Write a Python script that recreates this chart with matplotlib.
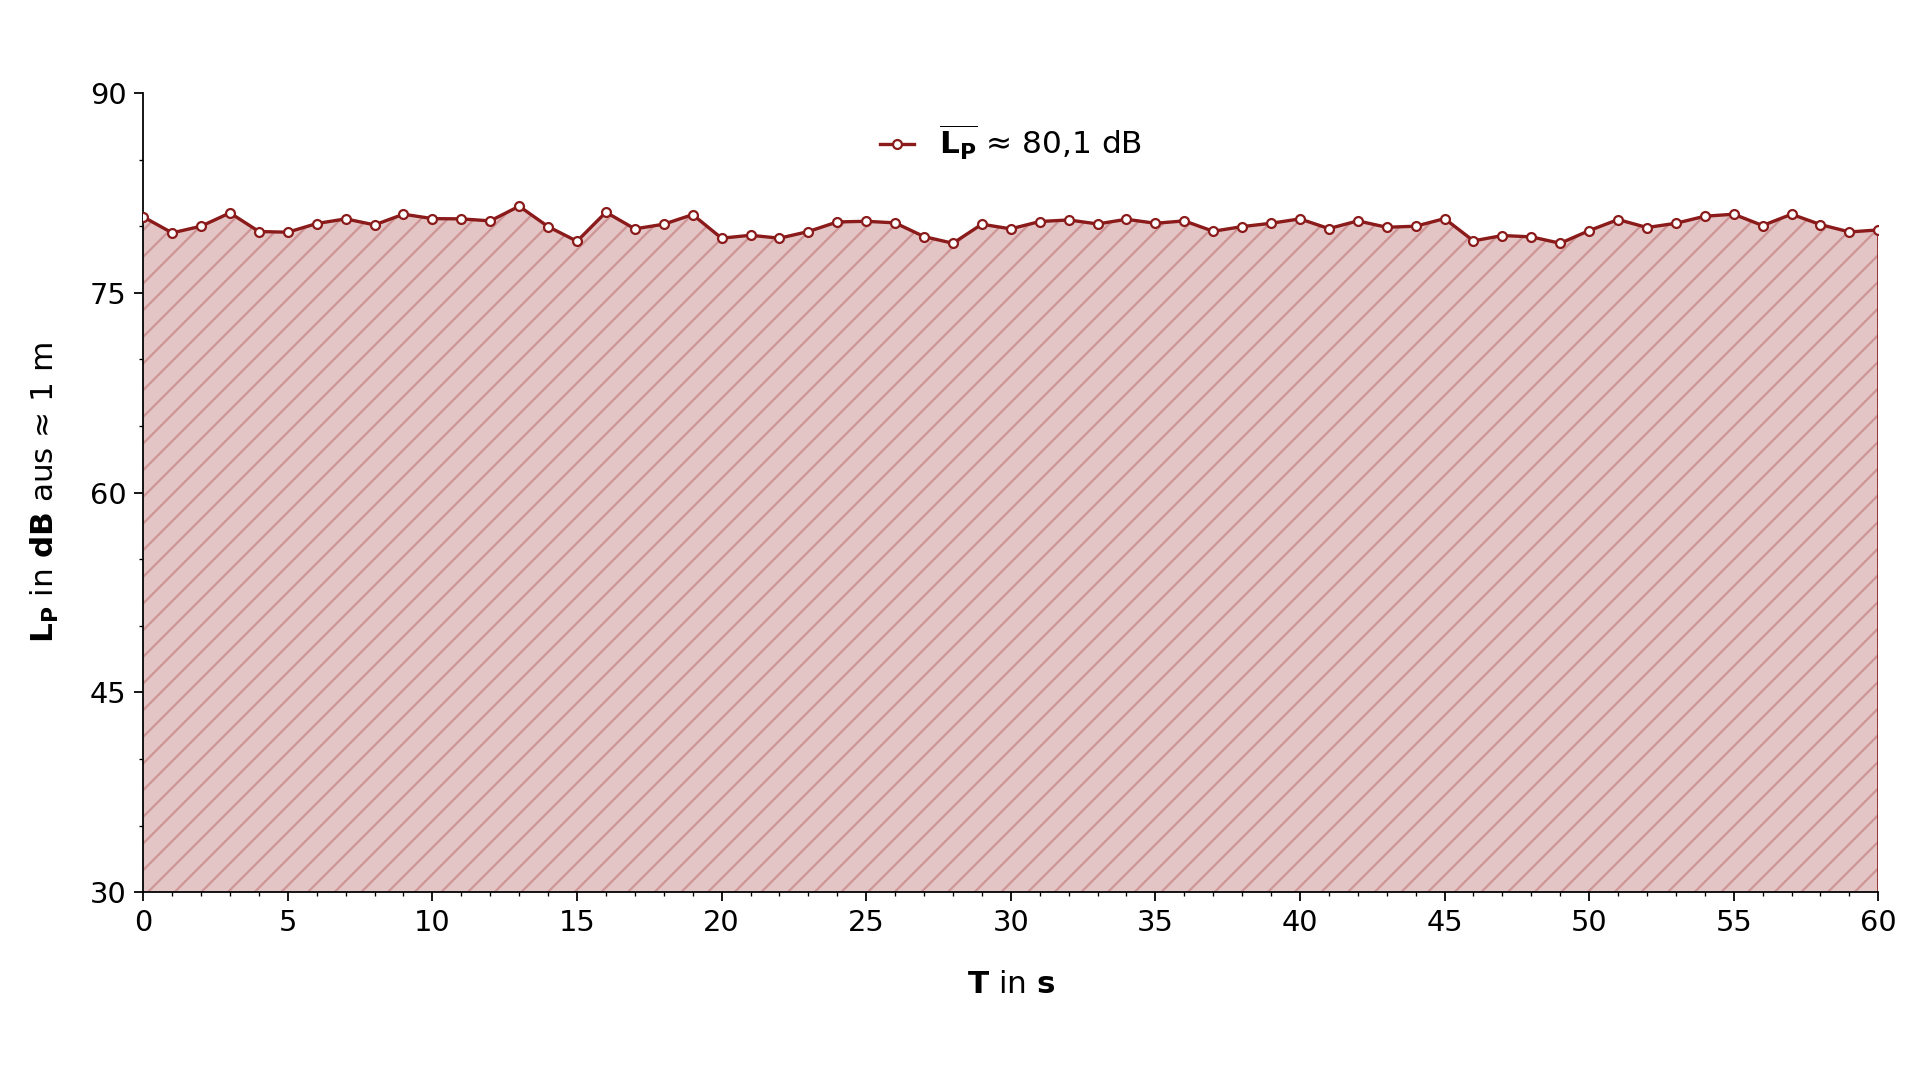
import numpy as np
import matplotlib
matplotlib.use("Agg")
import matplotlib.pyplot as plt

# Zeit in Sekunden und Schalldruckpegel in dB
t = np.arange(0, 61)
lp = [80.7, 79.5, 80.0, 81.0, 79.6, 79.55, 80.2, 80.55, 80.1, 80.9,
      80.57, 80.55, 80.4, 81.5, 79.97, 78.87, 81.05, 79.8, 80.15, 80.87,
      79.1, 79.32, 79.1, 79.6, 80.32, 80.37, 80.25, 79.22, 78.72, 80.15,
      79.8, 80.35, 80.47, 80.17, 80.52, 80.22, 80.4, 79.62, 79.97, 80.22,
      80.55, 79.82, 80.4, 79.92, 80.0, 80.57, 78.9, 79.3, 79.2, 78.72,
      79.67, 80.5, 79.9, 80.22, 80.75, 80.9, 80.05, 80.9, 80.12, 79.57,
      79.72]
legend_label = r"$\overline{\mathbf{L_P}}$ ≈ 80,1 dB"

red = "#8b1a1a"
y_min, y_max = 30, 90

fig = plt.figure(figsize=(12, 6.75), dpi=160)
ax = fig.add_axes([0.0746, 0.1738, 0.9037, 0.7401])

# gefüllte Fläche mit Schraffur
plt.rcParams["hatch.linewidth"] = 1.0
ax.fill_between(t, y_min, lp, facecolor="#e3c5c6", edgecolor="#cf9596",
                hatch="//", linewidth=0, zorder=1)
ax.vlines(t[-1], y_min, lp[-1], color=red, linewidth=1.2, zorder=2)

ax.plot(t, lp, color=red, linewidth=1.5, marker="o", markersize=4,
        markerfacecolor="white", markeredgecolor=red, markeredgewidth=1.0,
        label=legend_label, zorder=3)

ax.set_xlim(0, 60)
ax.set_ylim(y_min, y_max)
ax.set_xticks(np.arange(0, 61, 5))
ax.set_xticks(np.arange(0, 61, 1), minor=True)
ax.set_yticks(np.arange(30, 91, 15))
ax.set_yticks(np.arange(30, 91, 5), minor=True)
ax.tick_params(axis="both", which="major", labelsize=13, length=4)
ax.tick_params(axis="both", which="minor", length=2)

for side in ["top", "right"]:
    ax.spines[side].set_visible(False)

ax.set_xlabel(r"$\mathbf{T}$ in $\mathbf{s}$", fontsize=14, labelpad=15)
ax.set_ylabel(r"$\mathbf{L_P}$ in $\mathbf{dB}$ aus ≈ 1 m", fontsize=14,
              labelpad=13)

ax.legend(loc="upper center", frameon=False, fontsize=14,
          handlelength=1.1, bbox_to_anchor=(0.5, 0.998))

fig.savefig("out.png", dpi=160)
